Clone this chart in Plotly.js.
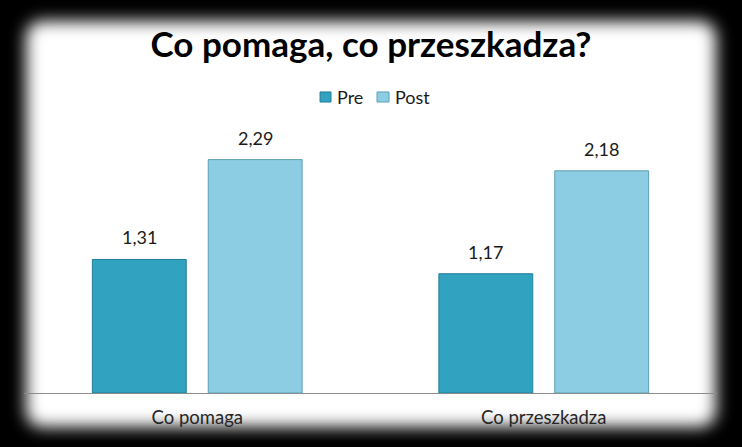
<!DOCTYPE html>
<html><head><meta charset="utf-8">
<script src="https://cdn.plot.ly/plotly-3.0.1.min.js"></script>
<style>
html,body{margin:0;padding:0;background:#000;}
#wrap{position:relative;width:742px;height:447px;background:#000;overflow:hidden;}
#glow{position:absolute;left:26px;top:21px;width:690px;height:406px;background:#fff;border-radius:16px;filter:blur(8px);}
#chart{position:absolute;left:0;top:0;width:742px;height:447px;}
</style></head>
<body>
<div id="wrap"><div id="glow"></div><div id="chart"></div></div>
<script>
const categories = ["Co pomaga", "Co przeszkadza"];
const preValues = [1.31, 1.17];
const postValues = [2.29, 2.18];
const seriesNames = ["Pre", "Post"];
const titleText = "Co pomaga, co przeszkadza?";

const font = "Lato, 'Open Sans', sans-serif";
const colors = ['#31a2c0', '#8ccde3'];
const edges = ['#1f7f99', '#5f9fb5'];
const fmt = v => v.toFixed(2).replace('.', ',');
const traces = [preValues, postValues].map((vals, s) => ({
  type:'bar', name:seriesNames[s], x:categories, y:vals,
  marker:{color:colors[s], line:{color:edges[s], width:1}}, hoverinfo:'none'
}));
const annotations = [];
[preValues, postValues].forEach((vals, s) => {
  vals.forEach((v, i) => {
    annotations.push({x:categories[i], y:v, xref:'x', yref:'y', text:fmt(v), showarrow:false,
      xshift: s === 0 ? -58 : 58, yshift: 9, yanchor:'bottom', xanchor:'center',
      font:{family:font, size:18, color:'#1a1a1a'}});
  });
});
// custom legend (tighter spacing, like the original)
const legX = [[0.4272, 0.4430, 0.4488], [0.5094, 0.5267, 0.5324]];
const shapes = [];
seriesNames.forEach((n, s) => {
  shapes.push({type:'rect', xref:'paper', yref:'paper', x0:legX[s][0], x1:legX[s][1], y0:1.098, y1:1.136,
               fillcolor:colors[s], line:{color:edges[s], width:1}});
  annotations.push({xref:'paper', yref:'paper', x:legX[s][2], y:1.117, xanchor:'left', yanchor:'middle',
               text:n, showarrow:false, font:{family:font, size:18, color:'#1a1a1a'}});
});
const layout = {
  width:742, height:447,
  paper_bgcolor:'rgba(0,0,0,0)', plot_bgcolor:'rgba(0,0,0,0)',
  separators:', ',
  margin:{l:23.5, r:24.5, t:128, b:54},
  title:{text:'<b>'+titleText+'</b>', font:{family:font, size:35, color:'#000'},
         x:0.5, xanchor:'center', y:0.9, yanchor:'middle', yref:'container'},
  showlegend:false,
  barmode:'group', bargap:0.331, bargroupgap:0.19,
  annotations: annotations, shapes: shapes,
  xaxis:{showline:true, linecolor:'#8c8c8c', linewidth:1, ticks:'', showgrid:false, ticklabelstandoff:8,
         tickfont:{family:font, size:18.5, color:'#262626'}, range:[-0.5,1.5]},
  yaxis:{visible:false, range:[0,2.6], showgrid:false, zeroline:false}
};
Plotly.newPlot('chart', traces, layout, {displayModeBar:false, staticPlot:true});
</script>
</body></html>
